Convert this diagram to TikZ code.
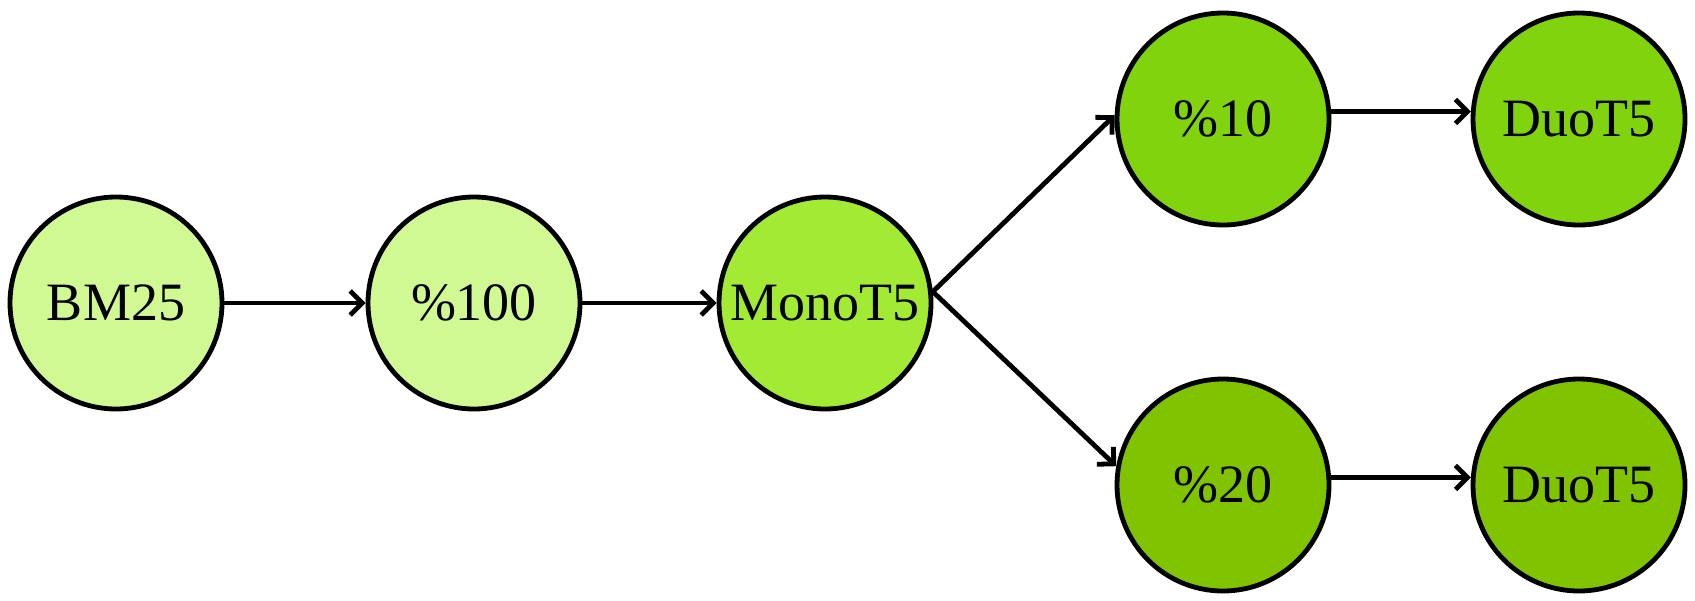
\documentclass[tikz,border=0pt]{standalone}
\usepackage{fontspec}
\setmainfont{Liberation Serif}
\usetikzlibrary{arrows.meta}

\definecolor{paleGreen}{HTML}{D0F994}
\definecolor{monoGreen}{HTML}{A2EA33}
\definecolor{topGreen}{HTML}{80D30D}
\definecolor{lowGreen}{HTML}{80C300}

\begin{document}
\begin{tikzpicture}[x=0.5pt, y=-0.5pt, line width=2.4pt,
  stage/.style={circle, draw, minimum size=106pt, inner sep=0pt,
    font=\fontsize{27}{30}\selectfont},
  flow/.style={-{Straight Barb[length=6pt, width=12pt]}}]
  \useasboundingbox (0,0) rectangle (1695,600);
  % retrieval and first re-ranking
  \node[stage, fill=paleGreen] (bm) at (116,303) {BM25};
  \node[stage, fill=paleGreen] (all) at (474,303) {\%100};
  \node[stage, fill=monoGreen] (mono) at (825,303) {MonoT5};
  % second stage
  \node[stage, fill=topGreen] (top10) at (1223,119) {\%10};
  \node[stage, fill=lowGreen] (top20) at (1223,485) {\%20};
  \node[stage, fill=topGreen] (duoA) at (1579,119) {DuoT5};
  \node[stage, fill=lowGreen] (duoB) at (1579,485) {DuoT5};
  \draw[flow] (bm) -- (all);
  \draw[flow] (all) -- (mono);
  \draw[flow] (mono.6) -- (top10.178);
  \draw[flow] (mono.6) -- (top20.170);
  \draw[flow] (top10.4) -- (duoA.176);
  \draw[flow] (top20.4) -- (duoB.176);
\end{tikzpicture}
\end{document}
